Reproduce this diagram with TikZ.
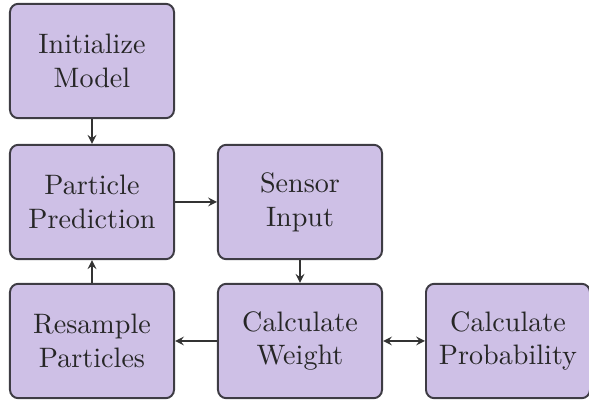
\documentclass[tikz,border=0pt]{standalone}
\usepackage{amsmath}
\usepackage{tikz}
\usepackage{xcolor}
\definecolor{boxfill}{RGB}{206,192,230}
\definecolor{boxline}{RGB}{62,60,68}
\tikzset{stage/.style={draw=boxline,fill=boxfill,line width=0.7pt,rounded corners=3pt,
   minimum width=2.05cm,minimum height=1.43cm,align=center,text=black!85},
 flow/.style={->,>=stealth,line width=0.4pt,draw=black!80},
 }
\usetikzlibrary{arrows}

\begin{document}
\begin{tikzpicture}[x=0.0125cm,y=-0.0125cm]
        \useasboundingbox (0,0) rectangle (589,405);
        \node[stage] (init) at (92, 61) {Initialize\\Model};
        \node[stage] (predict) at (92, 202) {Particle\\Prediction};
        \node[stage] (sensor) at (300, 202) {Sensor\\Input};
        \node[stage] (resample) at (92, 341) {Resample\\Particles};
        \node[stage] (weight) at (300, 341) {Calculate\\Weight};
        \node[stage] (prob) at (508, 341) {Calculate\\Probability};
        \draw[flow] (init) -- (predict);
        \draw[flow] (predict) -- (sensor);
        \draw[flow] (sensor) -- (weight);
        \draw[flow] (weight) -- (resample);
        \draw[flow] (resample) -- (predict);
        \draw[flow,<->] (weight) -- (prob);
\end{tikzpicture}
\end{document}
